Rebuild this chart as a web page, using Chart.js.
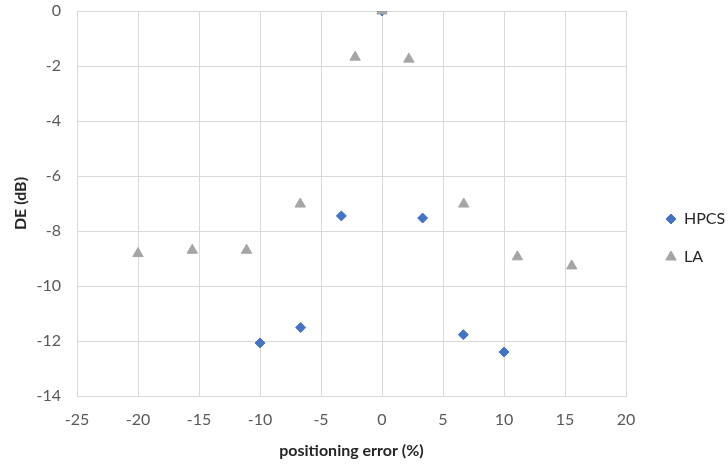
<!DOCTYPE html>
<html>
<head>
<meta charset="utf-8">
<script src="https://cdn.jsdelivr.net/npm/chart.js@4"></script>
<style>
  html, body { margin: 0; padding: 0; background: #fff; }
  #wrap { width: 728px; height: 466px; }
</style>
</head>
<body>
<div id="wrap"><canvas id="chart" width="728" height="466"></canvas></div>
<script>
// positioning error (%) vs DE (dB)
var hpcsX = [-10, -6.67, -3.33, 0, 3.33, 6.67, 10];
var hpcsY = [-12.07, -11.51, -7.45, 0, -7.53, -11.77, -12.4];

var laX = [-20, -15.55, -11.1, -6.7, -2.2, 0, 2.2, 6.7, 11.1, 15.55];
var laY = [-8.82, -8.7, -8.7, -7.02, -1.68, 0, -1.75, -7.02, -8.94, -9.27];

var seriesNames = ['HPCS', 'LA'];
var seriesColors = ['#4472C4', '#A5A5A5'];

function toPoints(xs, ys) {
  var pts = [];
  for (var i = 0; i < xs.length; i++) pts.push({ x: xs[i], y: ys[i] });
  return pts;
}

var fontFamily = 'Lato, "Liberation Sans", sans-serif';

// legend drawn by hand so it sits where the original one does
var sideLegend = {
  id: 'sideLegend',
  afterDraw: function(chart) {
    var ctx = chart.ctx;
    var area = chart.chartArea;
    var styles = ['rectRot', 'triangle'];
    var radii = [5, 6];
    var ys = [area.top + 208, area.top + 246];
    ctx.save();
    ctx.font = '16px ' + fontFamily;
    ctx.textBaseline = 'middle';
    ctx.textAlign = 'left';
    for (var i = 0; i < seriesNames.length; i++) {
      ctx.fillStyle = seriesColors[i];
      ctx.strokeStyle = seriesColors[i];
      Chart.helpers.drawPoint(ctx, { pointStyle: styles[i], radius: radii[i], rotation: 0, borderWidth: 1 }, area.right + 45, ys[i]);
      ctx.fillStyle = '#262626';
      ctx.fillText(seriesNames[i], area.right + 58, ys[i]);
    }
    ctx.restore();
  }
};

new Chart(document.getElementById('chart').getContext('2d'), {
  type: 'scatter',
  data: {
    datasets: [{
      label: seriesNames[0],
      data: toPoints(hpcsX, hpcsY),
      pointStyle: 'rectRot',
      pointRadius: 5,
      backgroundColor: seriesColors[0],
      borderColor: seriesColors[0],
      borderWidth: 1,
      order: 1
    }, {
      label: seriesNames[1],
      data: toPoints(laX, laY),
      pointStyle: 'triangle',
      pointRadius: 6,
      backgroundColor: seriesColors[1],
      borderColor: seriesColors[1],
      borderWidth: 1,
      order: 0
    }]
  },
  options: {
    responsive: false,
    animation: false,
    layout: { padding: { top: 11, right: 102, bottom: 0, left: 0 } },
    plugins: {
      legend: { display: false },
      tooltip: { enabled: false }
    },
    scales: {
      x: {
        type: 'linear',
        min: -25,
        max: 20,
        ticks: { stepSize: 5, color: '#595959', font: { family: fontFamily, size: 16 }, padding: 14 },
        grid: { color: '#d9d9d9', drawTicks: false },
        border: { color: '#d9d9d9' },
        title: {
          display: true,
          text: 'positioning error (%)',
          color: '#262626',
          font: { family: fontFamily, size: 16, weight: 'bold' },
          padding: { top: 0, bottom: 6 }
        },
        afterFit: function(scale) { scale.height = 70; }
      },
      y: {
        type: 'linear',
        min: -14,
        max: 0,
        ticks: { stepSize: 2, color: '#595959', font: { family: fontFamily, size: 16 }, padding: 16 },
        grid: { color: '#d9d9d9', drawTicks: false },
        border: { color: '#d9d9d9' },
        title: {
          display: true,
          text: 'DE (dB)',
          color: '#262626',
          font: { family: fontFamily, size: 16, weight: 'bold' },
          padding: { top: 11, bottom: 0 }
        },
        afterFit: function(scale) {
          scale.width = 77;
          scale.paddingTop = 0;
          scale.paddingBottom = 0;
        }
      }
    }
  },
  plugins: [sideLegend]
});
</script>
</body>
</html>
